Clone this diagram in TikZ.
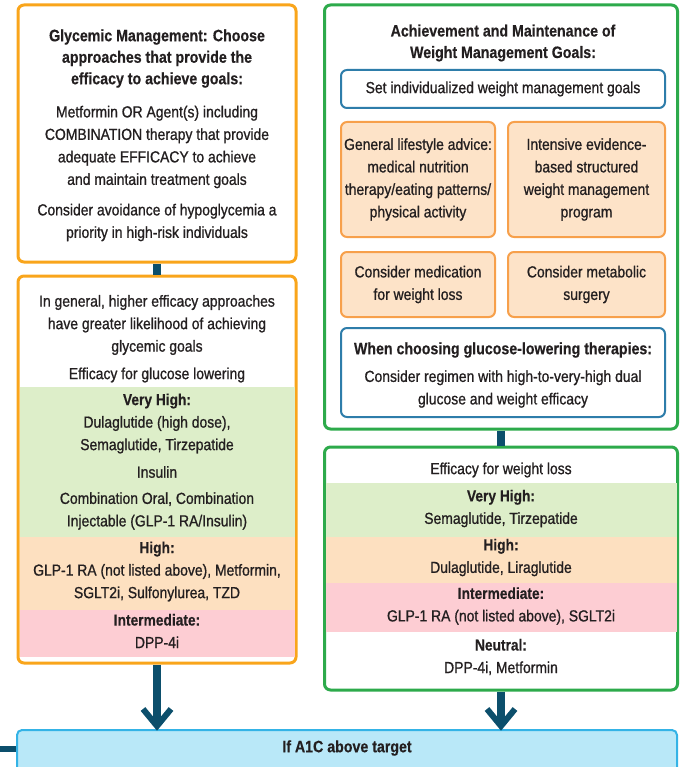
\documentclass[tikz,border=0pt]{standalone}
\usepackage{fontspec}
\setmainfont{Liberation Sans}[FakeStretch=0.87, FakeBold=0.9,
  BoldFeatures={FakeStretch=0.86, FakeBold=0.4}]
\definecolor{gold}{HTML}{F9A51B}
\definecolor{grn}{HTML}{2DAA4B}
\definecolor{navy}{HTML}{0C4F6C}
\definecolor{ltblue}{HTML}{B9E8F8}
\definecolor{blueedge}{HTML}{34B3E6}
\definecolor{steel}{HTML}{2E7DAA}
\definecolor{peach}{HTML}{FDE3C8}
\definecolor{peachedge}{HTML}{F7A04B}
\definecolor{bandgreen}{HTML}{DDEEC9}
\definecolor{bandorange}{HTML}{FDE0C0}
\definecolor{bandpink}{HTML}{FDCDD3}
\definecolor{ink}{HTML}{231F20}
\tikzset{
  txt/.style={text=ink, align=center, inner sep=0pt,
    font=\fontsize{16}{22.5}\selectfont},
  bold/.style={txt, font=\fontsize{16.5}{21.5}\selectfont\bfseries},
  goldbox/.style={draw=gold, line width=3pt, fill=white, rounded corners=6pt, inner sep=0pt},
  greenbox/.style={draw=grn, line width=3pt, fill=white, rounded corners=6pt, inner sep=0pt},
  steelbox/.style={draw=steel, line width=2pt, fill=white, rounded corners=6pt, inner sep=0pt},
  peachbox/.style={draw=peachedge, line width=2pt, fill=peach, rounded corners=6pt, inner sep=0pt},
  targetbox/.style={draw=blueedge, line width=2pt, fill=ltblue, rounded corners=5pt, inner sep=0pt},
  conn/.style={draw=navy, line width=8pt},
  chev/.style={draw=navy, line width=6pt},
}
\begin{document}
\begin{tikzpicture}[x=1pt,y=-1pt]
\useasboundingbox (0,0) rectangle (679,767);

% ---------- left column: glycemic management ----------
\node[goldbox, minimum width=278pt, minimum height=257pt] (glyc) at (157,133.5) {};
\node[goldbox, minimum width=278pt, minimum height=387pt] (gluc) at (157,469.5) {};

% efficacy bands for glucose lowering
\fill[bandgreen]  (19.5,387) rectangle (294.5,537);
\fill[bandorange] (19.5,537) rectangle (294.5,610);
\fill[bandpink]   (19.5,610) rectangle (294.5,657);

\node[bold] (glyctitle) at (157,58.5) {Glycemic Management: Choose\\approaches that provide the\\efficacy to achieve goals:};
\node[txt] (glycbody) at (157,147) {Metformin OR Agent(s) including\\COMBINATION therapy that provide\\adequate EFFICACY to achieve\\and maintain treatment goals};
\node[txt] (glychypo) at (157,222.5) {Consider avoidance of hypoglycemia a\\priority in high-risk individuals};

\node[txt] (glucgen) at (157,325) {In general, higher efficacy approaches\\have greater likelihood of achieving\\glycemic goals};
\node[txt] (glucefe) at (157,375) {Efficacy for glucose lowering};
\node[txt] (glucvh) at (157,423.5) {\textbf{Very High:}\\Dulaglutide (high dose),\\Semaglutide, Tirzepatide};
\node[txt] (glucins) at (157,472) {Insulin};
\node[txt] (gluccomb) at (157,511) {Combination Oral, Combination\\Injectable (GLP-1 RA/Insulin)};
\node[txt] (gluchigh) at (157,571.5) {\textbf{High:}\\GLP-1 RA (not listed above), Metformin,\\SGLT2i, Sulfonylurea, TZD};
\node[txt] (glucmid) at (157,631) {\textbf{Intermediate:}\\DPP-4i};

% ---------- right column: weight management ----------
\node[greenbox, minimum width=353pt, minimum height=424pt] (wt) at (501,217) {};
\node[greenbox, minimum width=353pt, minimum height=243pt] (wteff) at (501,568.5) {};

\fill[bandgreen]  (325.5,483) rectangle (676.5,537);
\fill[bandorange] (325.5,537) rectangle (676.5,583);
\fill[bandpink]   (325.5,583) rectangle (676.5,632);

\node[bold] (wttitle) at (503,43) {Achievement and Maintenance of\\Weight Management Goals:};
\node[steelbox, minimum width=324pt, minimum height=38pt] (wtset) at (503,89) {};
\node[txt] at (wtset) {Set individualized weight management goals};

\node[peachbox, minimum width=154pt, minimum height=115pt] (life) at (418,179.5) {};
\node[txt] at (life) {General lifestyle advice:\\medical nutrition\\therapy/eating patterns/\\physical activity};
\node[peachbox, minimum width=157pt, minimum height=115pt] (intens) at (586.5,179.5) {};
\node[txt] at (intens) {Intensive evidence-\\based structured\\weight management\\program};
\node[peachbox, minimum width=154pt, minimum height=65pt] (med) at (418,284.5) {};
\node[txt] at (med) {Consider medication\\for weight loss};
\node[peachbox, minimum width=157pt, minimum height=65pt] (surg) at (586.5,284.5) {};
\node[txt] at (surg) {Consider metabolic\\surgery};

\node[steelbox, minimum width=324pt, minimum height=89pt] (choose) at (503,372.5) {};
\node[bold] (choosetitle) at (503,350) {When choosing glucose-lowering therapies:};
\node[txt] (choosebody) at (503,389) {Consider regimen with high-to-very-high dual\\glucose and weight efficacy};

\node[txt] (wtefe) at (501,470) {Efficacy for weight loss};
\node[txt] (wtvh) at (501,508.5) {\textbf{Very High:}\\Semaglutide, Tirzepatide};
\node[txt] (wthigh) at (501,557.5) {\textbf{High:}\\Dulaglutide, Liraglutide};
\node[txt] (wtmid) at (501,606) {\textbf{Intermediate:}\\GLP-1 RA (not listed above), SGLT2i};
\node[txt] (wtneu) at (501,657) {\textbf{Neutral:}\\DPP-4i, Metformin};

% ---------- bottom: next step ----------
\node[targetbox, minimum width=660pt, minimum height=44pt] (a1c) at (347,752) {};
\node[bold] (a1ctext) at (347,748) {If A1C above target};

% ---------- connectors ----------
\draw[conn] (glyc.south) -- (gluc.north);
\draw[conn] (wt.south) -- (wteff.north);

\coordinate (tipL) at (157,726);
\coordinate (tipR) at (501,726);
\draw[conn] (gluc.south) -- (tipL);
\draw[conn] (wteff.south) -- (tipR);
\draw[chev] ([xshift=-14pt,yshift=17pt]tipL) -- (tipL) -- ([xshift=14pt,yshift=17pt]tipL);
\draw[chev] ([xshift=-14pt,yshift=17pt]tipR) -- (tipR) -- ([xshift=14pt,yshift=17pt]tipR);

\coordinate (lineL) at (0,749);
\draw[draw=navy, line width=6pt] (lineL) -- (a1c.west |- lineL);
\end{tikzpicture}
\end{document}
